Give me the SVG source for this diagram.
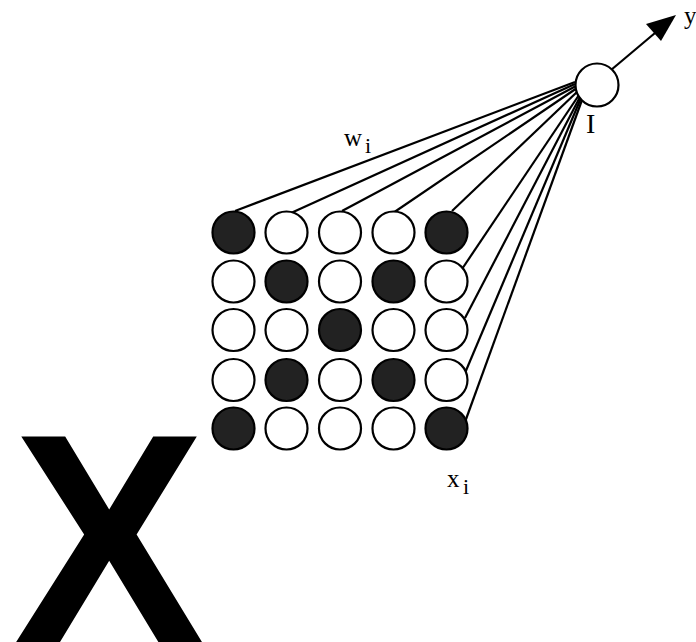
<svg xmlns="http://www.w3.org/2000/svg" width="696" height="642" viewBox="0 0 696 642">
<defs>
<style>
.c{stroke:#000;stroke-width:2.2;fill:#fff}
.f{fill:#222}
.ln line{stroke:#000;stroke-width:2.2}
.t{font-family:"Liberation Serif",serif;fill:#000}
</style>
</defs>
<rect width="696" height="642" fill="#fff"/>
<g id="connectors" class="ln">
<line x1="235" y1="211" x2="575" y2="82"/>
<line x1="291" y1="213" x2="575" y2="84"/>
<line x1="342" y1="211" x2="576" y2="86"/>
<line x1="393" y1="213" x2="577" y2="88"/>
<line x1="452" y1="211" x2="578" y2="91"/>
<line x1="460" y1="272" x2="579" y2="95"/>
<line x1="465" y1="318" x2="580" y2="97"/>
<line x1="465" y1="373" x2="581" y2="98"/>
<line x1="465" y1="422" x2="582" y2="100"/>
<line x1="611" y1="70" x2="655" y2="33"/>
<polygon points="676,15 646,24 661,41" fill="#000"/>
</g>
<g id="neuron"><circle class="c" cx="597" cy="85" r="21.5"/></g>
<g id="grid">
<circle id="n11" class="c f" cx="233.5" cy="232.5" r="21"/>
<circle id="n12" class="c" cx="286.5" cy="232.5" r="21"/>
<circle id="n13" class="c" cx="340" cy="232.5" r="21"/>
<circle id="n14" class="c" cx="393.5" cy="232.5" r="21"/>
<circle id="n15" class="c f" cx="446.5" cy="232.5" r="21"/>
<circle id="n21" class="c" cx="233.5" cy="281.5" r="21"/>
<circle id="n22" class="c f" cx="286.5" cy="281.5" r="21"/>
<circle id="n23" class="c" cx="340" cy="281.5" r="21"/>
<circle id="n24" class="c f" cx="393.5" cy="281.5" r="21"/>
<circle id="n25" class="c" cx="446.5" cy="281.5" r="21"/>
<circle id="n31" class="c" cx="233.5" cy="330" r="21"/>
<circle id="n32" class="c" cx="286.5" cy="330" r="21"/>
<circle id="n33" class="c f" cx="340" cy="330" r="21"/>
<circle id="n34" class="c" cx="393.5" cy="330" r="21"/>
<circle id="n35" class="c" cx="446.5" cy="330" r="21"/>
<circle id="n41" class="c" cx="233.5" cy="380" r="21"/>
<circle id="n42" class="c f" cx="286.5" cy="380" r="21"/>
<circle id="n43" class="c" cx="340" cy="380" r="21"/>
<circle id="n44" class="c f" cx="393.5" cy="380" r="21"/>
<circle id="n45" class="c" cx="446.5" cy="380" r="21"/>
<circle id="n51" class="c f" cx="233.5" cy="428.5" r="21"/>
<circle id="n52" class="c" cx="286.5" cy="428.5" r="21"/>
<circle id="n53" class="c" cx="340" cy="428.5" r="21"/>
<circle id="n54" class="c" cx="393.5" cy="428.5" r="21"/>
<circle id="n55" class="c f" cx="446.5" cy="428.5" r="21"/>
</g>
<g id="labels">
<text class="t" x="684" y="24" font-size="25">y</text>
<text class="t" x="586" y="133" font-size="28">I</text>
<text class="t" x="344" y="146" font-size="25">w</text>
<text class="t" x="365" y="153" font-size="22">i</text>
<text class="t" x="447" y="487" font-size="25">x</text>
<text class="t" x="463" y="494" font-size="22">i</text>
</g>
<g id="bigX">
<text x="0" y="643" transform="translate(13,0) scale(0.96,1)" font-family="Liberation Sans,Arial,sans-serif" font-weight="bold" font-size="300">X</text>
</g>
</svg>
